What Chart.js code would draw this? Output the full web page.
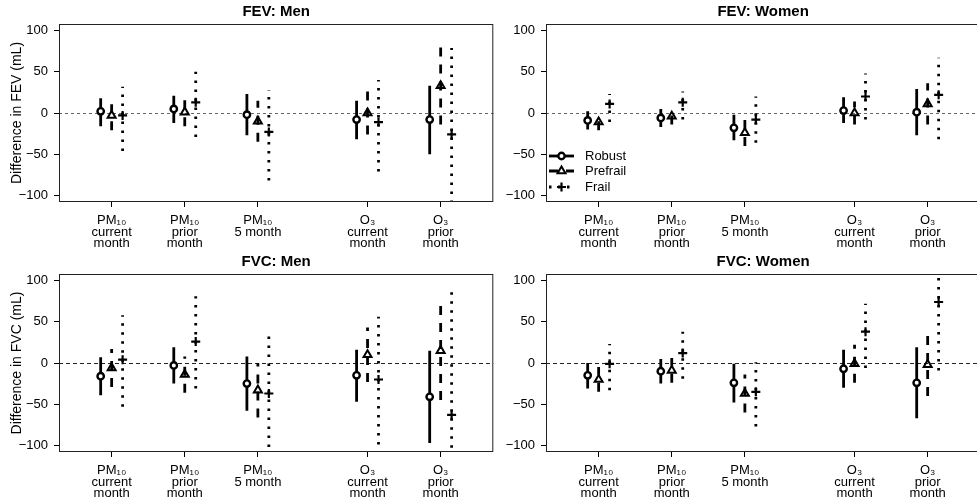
<!DOCTYPE html>
<html>
<head>
<meta charset="utf-8">
<script src="https://cdn.jsdelivr.net/npm/chart.js@4.4.1/dist/chart.umd.min.js"></script>
<style>
  html, body { margin: 0; padding: 0; background: #fff; overflow: hidden; }
  #wrap { position: relative; width: 977px; height: 502px; overflow: hidden; }
  canvas { position: absolute; }
</style>
</head>
<body>
<div id="wrap">
  <canvas id="fevMen" width="500" height="251" style="left:0;top:0"></canvas>
  <canvas id="fevWomen" width="500" height="251" style="left:487px;top:0"></canvas>
  <canvas id="fvcMen" width="500" height="252" style="left:0;top:250px"></canvas>
  <canvas id="fvcWomen" width="500" height="252" style="left:487px;top:250px"></canvas>
</div>
<script>
// exposure windows (x axis), one label line per array entry
const exposureLabels = [
  ['PM\u2081\u2080', 'current', 'month'],
  ['PM\u2081\u2080', 'prior', 'month'],
  ['PM\u2081\u2080', '5 month'],
  ['O\u2083', 'current', 'month'],
  ['O\u2083', 'prior', 'month'],
];
const exposurePos = [1, 2, 3, 4.5, 5.5];
const yTicks = [-100, -50, 0, 50, 100];
const seriesNames = ['Robust', 'Prefrail', 'Frail'];

// each row: [estimate, lower CI, upper CI] in mL, one row per exposure
const fevMenRobust   = [[2, -16, 18], [5, -12, 21], [-2, -27, 23], [-8, -32, 15], [-8, -50, 33]];
const fevMenPrefrail = [[-3, -21, 15], [1, -16, 18], [-10, -35, 15], [0, -26, 26], [33, -14, 80]];
const fevMenFrail    = [[-3, -46, 32], [13, -29, 50], [-23, -82, 28], [-11, -71, 40], [-26, -131, 79]];

const fevWomenRobust   = [[-9, -20, 2], [-6, -17, 5], [-18, -33, -2], [3, -12, 19], [1, -27, 29]];
const fevWomenPrefrail = [[-11, -21, -1], [-4, -14, 6], [-24, -40, -8], [0, -14, 14], [11, -14, 36]];
const fevWomenFrail    = [[11, -11, 23], [13, -8, 26], [-8, -36, 20], [20, -8, 48], [22, -32, 67]];

const fvcMenRobust   = [[-16, -39, 7], [-3, -25, 19], [-25, -58, 8], [-15, -47, 16], [-41, -97, 15]];
const fvcMenPrefrail = [[-6, -29, 17], [-14, -36, 8], [-33, -66, 0], [10, -23, 43], [15, -45, 75]];
const fvcMenFrail    = [[4, -53, 58], [26, -31, 81], [-37, -113, 39], [-20, -99, 56], [-63, -212, 86]];

const fvcWomenRobust   = [[-15, -31, 0], [-10, -25, 5], [-24, -48, -1], [-7, -30, 16], [-24, -67, 19]];
const fvcWomenPrefrail = [[-20, -35, -5], [-9, -24, 6], [-37, -60, -14], [-1, -24, 22], [-2, -40, 36]];
const fvcWomenFrail    = [[-1, -33, 23], [12, -19, 38], [-35, -77, 1], [38, -6, 72], [74, -9, 157]];

Chart.defaults.font.family = '"Liberation Sans", Arial, Helvetica, sans-serif';
Chart.defaults.color = '#000';

// marker + line style per frailty group
const seriesStyle = [
  { offset: -0.15, point: 'circle', radius: 3.2, border: 2.4, fill: '#fff', dash: [] },
  { offset: 0, point: 'triangle', radius: 4.6, border: 2, fill: 'rgba(0,0,0,0)', dash: [9, 8] },
  { offset: 0.15, point: 'cross', radius: 4.5, border: 2.2, fill: 'rgba(0,0,0,0)', dash: [2.5, 6.5] },
];

const framePlugin = {
  id: 'panelFrame',
  afterDatasetsDraw(chart) {
    const { ctx, chartArea } = chart;
    ctx.save();
    ctx.strokeStyle = '#222';
    ctx.lineWidth = 1;
    ctx.strokeRect(chartArea.left + 0.5, chartArea.top + 0.5, chartArea.width - 1, chartArea.height - 1);
    ctx.restore();
  }
};

const legendPlugin = {
  id: 'frailtyLegend',
  afterDatasetsDraw(chart, args, opts) {
    if (!opts.show) return;
    const { ctx, chartArea } = chart;
    const x0 = chartArea.left + 3;
    const x1 = chartArea.left + 28;
    const rowsFromBottom = [46, 31, 15];
    ctx.save();
    seriesNames.forEach((name, s) => {
      const st = seriesStyle[s];
      const y = chartArea.bottom - rowsFromBottom[s];
      ctx.strokeStyle = '#000';
      ctx.lineWidth = 2.8;
      ctx.setLineDash(st.dash);
      ctx.beginPath();
      ctx.moveTo(x0, y);
      ctx.lineTo(x1, y);
      ctx.stroke();
      ctx.setLineDash([]);
      ctx.lineWidth = st.border;
      ctx.fillStyle = st.fill;
      Chart.helpers.drawPoint(ctx, { pointStyle: st.point, radius: st.radius, borderWidth: st.border, rotation: 0 }, (x0 + x1) / 2, y);
      ctx.fillStyle = '#000';
      ctx.font = '13px "Liberation Sans", Arial, sans-serif';
      ctx.textAlign = 'left';
      ctx.textBaseline = 'middle';
      ctx.fillText(name, chartArea.left + 39, y);
    });
    ctx.restore();
  }
};

function buildDatasets(seriesRows) {
  const sets = [];
  seriesRows.forEach((rows, s) => {
    const st = seriesStyle[s];
    const ci = [];
    const est = [];
    rows.forEach((r, g) => {
      const x = exposurePos[g] + st.offset;
      ci.push({ x, y: r[1] }, { x, y: r[2] }, { x, y: null });
      est.push({ x, y: r[0] });
    });
    sets.push({
      type: 'line', label: seriesNames[s] + ' CI', data: ci,
      borderColor: '#000', borderWidth: 2.8, borderDash: st.dash, borderCapStyle: 'butt',
      pointRadius: 0, spanGaps: false, order: 2, clip: 0
    });
    sets.push({
      type: 'scatter', label: seriesNames[s], data: est,
      pointStyle: st.point, pointRadius: st.radius, pointBorderWidth: st.border,
      pointBorderColor: '#000', pointBackgroundColor: st.fill, order: 1, clip: 0
    });
  });
  return sets;
}

function makePanel(id, title, yTitle, seriesRows, opts) {
  const canvas = document.getElementById(id);
  return new Chart(canvas.getContext('2d'), {
    type: 'scatter',
    data: { datasets: buildDatasets(seriesRows) },
    plugins: [framePlugin, legendPlugin],
    options: {
      responsive: false,
      animation: false,
      events: [],
      layout: { padding: { left: 0, right: 3, top: 0, bottom: 0 } },
      plugins: {
        legend: { display: false },
        tooltip: { enabled: false },
        title: {
          display: true, text: title, fullSize: false, color: '#000',
          font: { size: 15, weight: 'bold' }, padding: { top: 3, bottom: 3 }
        },
        frailtyLegend: { show: !!opts.legend }
      },
      scales: {
        x: {
          type: 'linear', min: 0.28, max: 6.22,
          afterBuildTicks: (axis) => { axis.ticks = exposurePos.map(v => ({ value: v })); },
          afterFit: (axis) => { axis.height = canvas.height - 202; },
          ticks: {
            autoSkip: false, maxRotation: 0, minRotation: 0, padding: 8,
            font: { size: 13, lineHeight: 0.885 }, color: '#000',
            callback: (v, i) => exposureLabels[i]
          },
          grid: { drawOnChartArea: false, tickLength: 5, tickColor: '#000', color: '#000' },
          border: { display: false }
        },
        y: {
          type: 'linear', min: -108, max: 108,
          afterBuildTicks: (axis) => { axis.ticks = yTicks.map(v => ({ value: v })); },
          afterFit: (axis) => { axis.width = 59; },
          ticks: {
            padding: 6, font: { size: 13 }, color: '#000',
            callback: (v) => (v < 0 ? '\u2212' + Math.abs(v) : String(v))
          },
          grid: {
            color: (ctx) => (ctx.tick && ctx.tick.value === 0 ? opts.zeroColor : 'rgba(0,0,0,0)'),
            tickLength: 5, tickColor: '#000', lineWidth: 1
          },
          border: { display: false, dash: opts.zeroDash },
          title: {
            display: !!yTitle, text: yTitle || '', color: '#000',
            font: { size: 14 }, padding: { top: 9, bottom: 0 }
          }
        }
      }
    }
  });
}

makePanel('fevMen', 'FEV: Men', 'Difference in FEV (mL)',
  [fevMenRobust, fevMenPrefrail, fevMenFrail], { zeroColor: '#666', zeroDash: [3, 3] });
makePanel('fevWomen', 'FEV: Women', null,
  [fevWomenRobust, fevWomenPrefrail, fevWomenFrail], { zeroColor: '#666', zeroDash: [3, 3], legend: true });
makePanel('fvcMen', 'FVC: Men', 'Difference in FVC (mL)',
  [fvcMenRobust, fvcMenPrefrail, fvcMenFrail], { zeroColor: '#222', zeroDash: [4, 3] });
makePanel('fvcWomen', 'FVC: Women', null,
  [fvcWomenRobust, fvcWomenPrefrail, fvcWomenFrail], { zeroColor: '#222', zeroDash: [4, 3] });
</script>
</body>
</html>
